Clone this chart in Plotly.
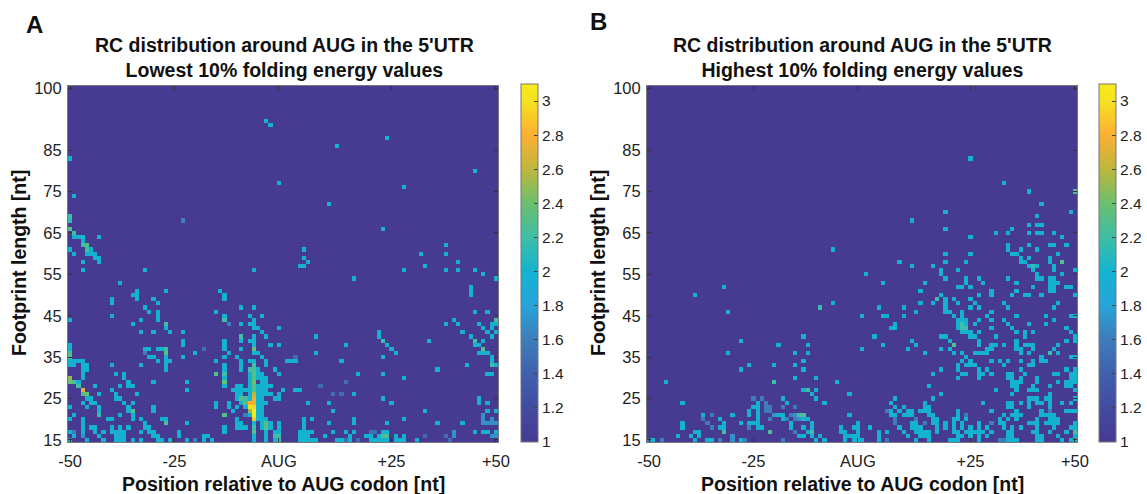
import plotly.graph_objects as go

TITLE_A = "RC distribution around AUG in the 5'UTR<br>Lowest 10% folding energy values"
TITLE_B = "RC distribution around AUG in the 5'UTR<br>Highest 10% folding energy values"
X_LABEL = "Position relative to AUG codon [nt]"
Y_LABEL = "Footprint length [nt]"
X_TICKS = [-50, -25, 0, 27, 52]
X_TICK_TEXT = ["-50", "-25", "AUG", "+25", "+50"]
Y_TICKS = [15, 25, 35, 45, 55, 65, 75, 85, 100]
CB_TICKS = [1, 1.2, 1.4, 1.6, 1.8, 2, 2.2, 2.4, 2.6, 2.8, 3]
CB_TEXT = ["1", "1.2", "1.4", "1.6", "1.8", "2", "2.2", "2.4", "2.6", "2.8", "3"]
POSITIONS = list(range(-50, 53))
LENGTHS = list(range(15, 101))

# Panel A: position -> footprint lengths reading about 2
A_CYAN = {
 -50: [83,61,44,38,37,35,34,33,23,20,15,17], -49: [74,65,64,60,34,33,21,16], -48: [64,34,29,28], -47: [64,63,58,56,34,33,32,31,30,24,20,19,18,17,27],
 -46: [62,61,60,33,32,26,25,23,15], -45: [61,60,25,24,18], -44: [60,59,28,18,17,24], -43: [64,59,58,26,23,22,16], -42: [17,15],
 -41: [20], -40: [49,48,45,33,27,20,18,17], -39: [31,26,25,16,15], -38: [53,28,25,21,18,17,16,15], -37: [31,30,24,17,16,15], -36: [29,28,23,22,18],
 -35: [50,43,28,24,22,21,20,15], -34: [51,50,49,26], -33: [44,41,33,20,17,15], -32: [56,47,37,19,18], -31: [46,37,35,18,17],
 -30: [49,41,35,29,23,22,17,16], -29: [48,46,45,44,37,34,16,15], -28: [37,20,15], -27: [51,43,42,36,35,34,33,32,20,19], -26: [41,34,15],
 -24: [17,16], -23: [41,39,38,35], -22: [29,27,19,15], -20: [36], -18: [16,15], -17: [16], -16: [15],
 -15: [46,34,24,23], -14: [51], -13: [50,49,45,39,38,37,35,33,32,30,28,18,17], -12: [36,24,23], -11: [27,22], -10: [35,28,27,26,25,23,20,19,18],
 -9: [47,43,39,37,34,33,32,28,27,26,24,19,18], -8: [27,23,18], -7: [45,43,39,34,31,30,29,28,27,26,25,21],
 -6: [56,47,44,43,42,40,39,38,36,34,19,16,15], -5: [42,36,32,31,30,28,27,26,25,24,23,22,21,20],
 -4: [45,41,35,31,30,29,28,27,26,25,24,23,22,21,20,19,18], -3: [92,40,34,33,30,29,28,27,26,24,20,17,16,15], -2: [91,38,28,26,19,18],
 -1: [32,25,17,15], 0: [77,42,38,31,26,25,19,18,17], 1: [27], 2: [34],
 3: [34], 4: [34,27], 5: [57,27,17,16,15], 6: [61,59,57,20,19,18,17,16,15], 7: [58,24,17,16,15], 8: [20,17,15], 9: [40,36,15], 11: [16],
 12: [72,24,19], 13: [22,17], 14: [86,15], 15: [34,15], 16: [38,17], 17: [16,15], 18: [54,26,20,19,17], 19: [31], 21: [16], 22: [16,15],
 23: [15], 24: [41,40,16,15], 25: [66,39,35,31,25,17,16,15], 26: [88,38,19,17,15], 27: [37,24], 28: [36,16,15], 29: [15], 30: [76,56,30,20,16,15],
 33: [15], 34: [60], 35: [57,22], 36: [39], 38: [32,19], 40: [62,60,56,43], 42: [44], 43: [58,56,43], 44: [41,19], 45: [33], 46: [52,51,50,40],
 47: [80,56,46,39,38,17], 48: [43,38,36,25,24], 49: [55,42,39,36,17], 50: [46,41,36,31,24,22,17], 51: [43,42,40,35,34,33,31], 52: [54,44,43,41,33,22,17],
}
A_BLUE = [(-32,36,1.6), (-18,37,1.5), (-12,43,1.6), (-49,17,1.6), (-47,16,1.7), (-39,17,1.8), (-38,16,1.8), (-23,68,1.6), (-20,15,1.6),
          (-8,21,1.6), (4,35,1.5), (16,15,1.5), (10,28,1.5), (16,29,1.5), (13,26,1.5), (15,26,1.5), (19,15,1.5), (22,17,1.5), (23,17,1.5),
          (35,16,1.5), (40,16,1.5), (41,15,1.5), (42,17,1.7), (42,16,1.7), (49,21,1.7), (49,20,1.7), (49,19,1.7), (50,19,1.7), (51,20,1.7),
          (51,19,1.7), (52,19,1.7), (51,16,1.7), (52,16,1.7)]
A_WARM = [(-50,69,2.2), (-50,68,2.15), (-50,66,2.3), (-49,65,2.2), (-47,62,2.2), (-46,62,2.3), (-46,61,2.2), (-50,36,2.3), (-50,35,2.3),
          (-50,30,2.5), (-50,29,2.35), (-49,29,2.3), (-48,28,2.2), (-47,27,2.7), (-47,26,2.3), (-46,26,2.4), (-43,21,2.2),
          (-27,37,2.2), (-27,36,2.3), (-35,22,2.3), (-27,19,2.25), (-27,43,2.2), (-13,31,2.2), (-13,29,2.35), (-15,31,2.3), (-13,21,2.3), (-13,44,2.2),
          (-9,40,2.2), (-9,25,2.3), (-8,25,2.2), (-8,24,2.35), (-6,37,2.4), (-7,32,2.2), (-6,33,2.2), (-6,32,2.25), (-6,31,2.3), (-6,30,2.3), (-6,29,2.4),
          (-6,28,2.3), (-6,27,2.3), (-6,26,2.6), (-6,25,2.75), (-6,24,2.75), (-6,23,2.95), (-6,22,3.1), (-6,21,3.1), (-6,20,2.9),
          (-7,24,2.8), (-7,23,3.0), (-7,22,2.5), (-6,18,2.2), (-6,17,2.3), (-3,19,2.3), (-3,18,2.3), (0,16,2.2), (0,15,2.2),
          (-1,16,2.2), (49,37,2.3), (47,39,2.2), (51,33,2.2), (25,39,2.2), (25,16,2.25), (26,16,2.3), (52,44,2.2)]

# Panel B: footprint length -> positions reading about 2
B_CYAN = {
 83: [27], 77: [35], 75: [41], 72: [44], 70: [21,51], 69: [43], 68: [13], 67: [41,43,44], 66: [21,37], 65: [33,36,41,43,44,47], 64: [27,49],
 62: [36,41,46,47,50], 61: [-6,36,39,43], 60: [21,27,37,38,48], 59: [39,41,46], 58: [10,21,26,39,40,46], 57: [13,18,41,42,43,47], 56: [20,24,42,47,52],
 55: [2,20,43,49], 54: [21,26,29,36,43,44,46,47], 53: [6,16,26,30,38,46,47,48], 52: [-32,24,25,27,42,46,47,50,51], 51: [15,32,38,46,47],
 50: [-39,20,29,32,37,40,41,44,52], 49: [21,23,27], 48: [-6,15,18,21,24,28,35,48], 47: [5,11,21,27,29,36,47], 46: [-31,14,21,22,25,32],
 45: [1,6,7,11,23,25,31,38,45,51,52], 44: [24,25,26,29,32,35,47], 43: [9,24,26,28,36,41,45], 42: [8,9,24,32,37,50], 41: [25,26,27,29,38,40,42,51],
 40: [-13,4,20,21,27,28,33,40,52], 39: [-28,13,22,29,38,50,52], 38: [-19,-12,6,14,29,32,33,35,38,40,41,42,48], 37: [1,12,20,22,31,32,38,39,42,47],
 36: [-31,-15,-12,16,23,25,28,29,30,31,39,41,48], 35: [26,44,51,52], 34: [-13,25,27,32,34,36,39,42,44,45], 33: [-26,-20,-15,24,26,27,28,35,41,42],
 32: [-28,-13,20,24,29,31,39,50,52], 31: [18,25,26,29,30,32,36,37,40,47,48,51,52], 30: [-15,-10,24,29,36,37,39,43,51,52], 29: [-46,-5,37,38,39,43,48,50,51,52],
 28: [17,37,38,42,46,50,51], 27: [-13,-10,33,38,41,42,43,52], 26: [-11,-2,20,37,46], 25: [-18,-10,9,18,41,42,43,45,46,52], 24: [-42,-24,-17,-8,8,16,30,36,37,39,41,43,44,46,49,51],
 23: [-25,-24,9,11,16,17,36,37,41,46], 22: [-26,-24,8,10,12,13,15,16,17,24,32,38,44,50,51,52], 21: [-37,-30,-26,-24,-19,-18,-2,8,9,11,12,13,17,18,24,35,37,38,39,44,45,46,47],
 20: [-33,-24,-18,-13,-12,9,18,19,23,24,26,34,36,38,43,46,47,48], 19: [-42,-32,-28,-26,-25,-24,-16,-11,0,9,13,14,18,19,21,23,25,29,34,35,41,42,43,45,46,47,48,52],
 18: [-42,-33,-32,-24,-23,-16,-13,-11,-4,-1,0,3,10,13,14,15,19,21,23,25,27,29,31,35,37,39,43,47,51,52], 17: [-39,-38,-12,-4,-3,0,5,7,11,14,15,16,17,19,23,24,26,27,28,29,30,32,36,37,42,43,46,50],
 16: [-43,-40,-38,-14,-13,-11,-9,-3,-2,-1,0,5,12,15,16,17,24,25,27,29,31,36,37,43,44,48,52], 15: [-49,-39,-36,-35,-28,-10,-8,-3,-1,0,1,5,14,17,22,23,24,29,36,37,38,43,44,49,51,52],
}
B_BLUE = [(-25,25,1.6), (-23,25,1.6), (-22,24,1.6), (-21,23,1.6), (-18,23,1.6), (-15,23,1.6), (-22,23,1.6), (-22,22,1.6), (-21,22,1.6),
          (-35,21,1.6), (-20,21,1.7), (-16,21,1.6), (-15,21,1.7), (-37,20,1.6), (-21,20,1.6), (-17,20,1.6), (-15,20,1.6), (-14,20,1.7),
          (-36,19,1.6), (-35,18,1.6), (-26,18,1.6), (-15,17,1.6), (-30,16,1.7), (-50,15,1.6), (-47,15,1.6), (-33,15,1.6), (-30,15,1.7), (-27,15,1.6), (-18,15,1.6),
          (7,22,1.6), (9,20,1.6), (14,20,1.6), (26,21,1.6), (9,19,1.6), (16,19,1.6), (32,19,1.6), (46,22,1.6), (7,15,1.6), (34,15,1.6), (35,15,1.6)]
B_WARM = [(52,75,2.3), (-9,47,2.15), (-20,29,2.2), (-12,27,2.2), (-14,21,2.25), (-13,21,2.25), (-32,17,2.25), (-21,17,2.25), (-11,17,2.2),
          (19,49,2.2), (25,43,2.2), (25,42,2.2), (26,42,2.2), (23,38,2.3), (46,36,2.2), (49,58,2.3), (52,17,2.25), (42,57,2.15)]

COLORS = [[0, "#463A92"], [0.095, "#424B9F"], [0.19, "#4060AD"], [0.286, "#3E7CBA"], [0.381, "#27A4DA"], [0.476, "#13B3D0"],
          [0.571, "#3DBEA6"], [0.667, "#6CBF6E"], [0.762, "#BDB73C"], [0.857, "#FBB034"], [0.952, "#F6E11F"], [1, "#F5EC1D"]]


def grid_from(cyan, others, keyed_by_position):
    grid = {}
    for key, vals in cyan.items():
        for v in vals:
            grid[(key, v) if keyed_by_position else (v, key)] = 2
    for x, y, val in others:
        grid[(x, y)] = val
    return [[grid.get((x, y), 1) for x in POSITIONS] for y in LENGTHS]


Z_A = grid_from(A_CYAN, A_BLUE + A_WARM, True)
Z_B = grid_from(B_CYAN, B_BLUE + B_WARM, False)

W, H = 1147, 494
FONT = "Liberation Sans"


def fx(px):
    return px / W


def fy(py):
    return 1 - py / H


fig = go.Figure()
for z, xa, ya, cbx in ((Z_A, "x", "y", 521), (Z_B, "x2", "y2", 1099)):
    fig.add_trace(go.Heatmap(
        z=z, x=POSITIONS, y=LENGTHS, xaxis=xa, yaxis=ya, zmin=1, zmax=3.1, colorscale=COLORS, zsmooth=False,
        hovertemplate="%{x}, %{y}: %{z}<extra></extra>",
        colorbar=dict(
            x=fx(cbx), xanchor="left", xpad=0, y=fy(442), yanchor="bottom", ypad=0, len=358, lenmode="pixels",
            thickness=17, thicknessmode="pixels", outlinecolor="#777", outlinewidth=1,
            tickvals=CB_TICKS, ticktext=CB_TEXT, ticks="inside", ticklen=4, tickcolor="#444",
            tickfont=dict(family=FONT, size=15.5, color="#222"))))

axis_x = dict(range=[-50.5, 52.5], tickvals=X_TICKS, ticktext=X_TICK_TEXT, ticks="inside", ticklen=4, tickcolor="#333",
              mirror="ticks", showline=True, linecolor="#777", linewidth=1, showgrid=False, zeroline=False,
              tickfont=dict(family=FONT, size=16.5, color="#222"), tickangle=0, ticklabelstandoff=4)
axis_y = dict(range=[14.5, 100.5], tickvals=Y_TICKS, ticks="inside", ticklen=4, tickcolor="#333",
              mirror="ticks", showline=True, linecolor="#777", linewidth=1, showgrid=False, zeroline=False,
              tickfont=dict(family=FONT, size=16.5, color="#222"), ticklabelstandoff=2)

fig.update_layout(
    width=W, height=H, autosize=False, margin=dict(l=0, r=0, t=0, b=0, autoexpand=False), paper_bgcolor="white", plot_bgcolor="white",
    showlegend=False,
    xaxis={**axis_x, "domain": [fx(68), fx(498)], "anchor": "y"},
    yaxis={**axis_y, "domain": [fy(442), fy(86)], "anchor": "x"},
    xaxis2={**axis_x, "domain": [fx(647), fx(1077)], "anchor": "y2"},
    yaxis2={**axis_y, "domain": [fy(442), fy(86)], "anchor": "x2"},
)


def note(text, px, py, size, angle=0, anchor="center"):
    fig.add_annotation(text=text, x=fx(px), y=fy(py), xref="paper", yref="paper", showarrow=False, textangle=angle,
                       xanchor=anchor, yanchor="middle", font=dict(family=FONT, size=size, color="#111"))


note("<b>A</b>", 34, 24, 24)
note("<b>B</b>", 598, 21, 24)
note("<b>" + TITLE_A.replace("<br>", "</b><br><b>") + "</b>", 284, 57, 19.5)
note("<b>" + TITLE_B.replace("<br>", "</b><br><b>") + "</b>", 863, 57, 19.5)
note("<b>" + X_LABEL + "</b>", 283, 484, 19.5)
note("<b>" + X_LABEL + "</b>", 862, 484, 19.5)
note("<b>" + Y_LABEL + "</b>", 19, 263, 19.5, -90)
note("<b>" + Y_LABEL + "</b>", 598, 263, 19.5, -90)

fig.write_html("out.html", config={"displayModeBar": False},
               post_script="document.documentElement.style.overflow = 'hidden'; document.body.style.margin = '0';")
